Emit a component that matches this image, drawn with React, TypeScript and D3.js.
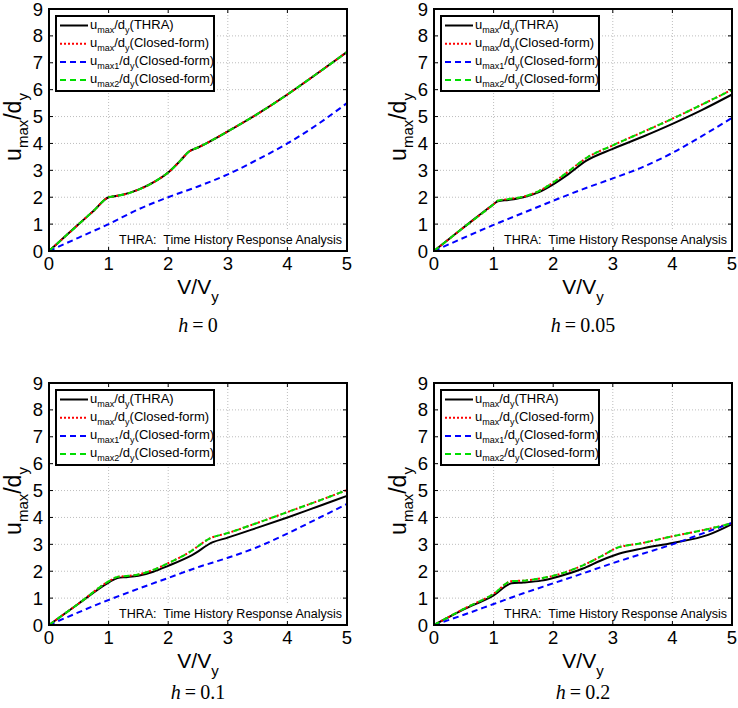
import React, { useEffect, useRef } from "react";
import * as d3 from "d3";

type Pt = [number, number];

const xTicks = [0, 1, 2, 3, 4, 5];
const yTicks = [0, 1, 2, 3, 4, 5, 6, 7, 8, 9];
const hValues = ["0", "0.05", "0.1", "0.2"];
const note = "THRA:  Time History Response Analysis";

// h = 0
const thraH0: Pt[] = [[0, 0], [0.25, 0.5], [0.5, 1.0], [0.75, 1.5], [1, 2.0], [1.1, 2.04], [1.25, 2.1], [1.5, 2.28], [1.75, 2.55], [2, 2.92], [2.2, 3.35], [2.35, 3.7], [2.5, 3.85], [3, 4.45], [3.5, 5.1], [4, 5.82], [4.5, 6.6], [5, 7.4]];
const closedH0: Pt[] = [[0, 0], [0.25, 0.5], [0.5, 1.0], [0.75, 1.5], [1, 2.0], [1.1, 2.04], [1.25, 2.1], [1.5, 2.28], [1.75, 2.55], [2, 2.92], [2.2, 3.35], [2.35, 3.7], [2.5, 3.85], [3, 4.45], [3.5, 5.1], [4, 5.82], [4.5, 6.6], [5, 7.4]];
const max1H0: Pt[] = [[0, 0], [0.5, 0.5], [1, 1.0], [1.5, 1.55], [2, 2.0], [2.5, 2.4], [3, 2.85], [3.5, 3.4], [4, 4.0], [4.5, 4.7], [5, 5.5]];
const max2H0: Pt[] = [[0, 0], [0.25, 0.5], [0.5, 1.0], [0.75, 1.5], [1, 2.0], [1.1, 2.04], [1.25, 2.1], [1.5, 2.28], [1.75, 2.55], [2, 2.92], [2.2, 3.35], [2.35, 3.7], [2.5, 3.85], [3, 4.45], [3.5, 5.1], [4, 5.82], [4.5, 6.6], [5, 7.4]];

// h = 0.05
const thraH005: Pt[] = [[0, 0], [0.5, 0.88], [1, 1.74], [1.07, 1.85], [1.25, 1.9], [1.5, 2.0], [1.75, 2.18], [2, 2.48], [2.25, 2.85], [2.55, 3.35], [3, 3.8], [3.5, 4.25], [4, 4.73], [4.5, 5.25], [5, 5.82]];
const closedH005: Pt[] = [[0, 0], [0.5, 0.88], [1, 1.74], [1.07, 1.87], [1.25, 1.93], [1.5, 2.02], [1.75, 2.22], [2, 2.55], [2.25, 2.95], [2.55, 3.45], [3, 3.93], [3.5, 4.42], [4, 4.92], [4.5, 5.45], [5, 6.0]];
const max1H005: Pt[] = [[0, 0], [1, 0.97], [1.5, 1.42], [2, 1.87], [2.5, 2.3], [3, 2.7], [3.5, 3.12], [4, 3.65], [4.5, 4.28], [5, 4.95]];
const max2H005: Pt[] = [[0, 0], [0.5, 0.88], [1, 1.74], [1.07, 1.87], [1.25, 1.93], [1.5, 2.02], [1.75, 2.22], [2, 2.55], [2.25, 2.95], [2.55, 3.45], [3, 3.93], [3.5, 4.42], [4, 4.92], [4.5, 5.45], [5, 6.0]];

// h = 0.1
const thraH01: Pt[] = [[0, 0], [0.5, 0.8], [1, 1.58], [1.15, 1.75], [1.3, 1.78], [1.5, 1.83], [1.75, 1.98], [2, 2.2], [2.4, 2.6], [2.75, 3.08], [3, 3.25], [3.5, 3.62], [4, 4.0], [4.5, 4.4], [5, 4.8]];
const closedH01: Pt[] = [[0, 0], [0.5, 0.8], [1, 1.62], [1.15, 1.79], [1.3, 1.82], [1.5, 1.88], [1.75, 2.05], [2, 2.3], [2.35, 2.7], [2.7, 3.22], [3, 3.42], [3.5, 3.8], [4, 4.2], [4.5, 4.6], [5, 5.02]];
const max1H01: Pt[] = [[0, 0], [1, 0.93], [1.5, 1.35], [2, 1.75], [2.5, 2.15], [3, 2.5], [3.5, 2.9], [4, 3.4], [4.5, 3.95], [5, 4.5]];
const max2H01: Pt[] = [[0, 0], [0.5, 0.8], [1, 1.62], [1.15, 1.79], [1.3, 1.82], [1.5, 1.88], [1.75, 2.05], [2, 2.3], [2.35, 2.7], [2.7, 3.22], [3, 3.42], [3.5, 3.8], [4, 4.2], [4.5, 4.6], [5, 5.02]];

// h = 0.2
const thraH02: Pt[] = [[0, 0], [0.5, 0.58], [1, 1.1], [1.3, 1.55], [1.5, 1.58], [1.8, 1.65], [2, 1.75], [2.5, 2.1], [2.8, 2.4], [3.1, 2.65], [3.5, 2.85], [4, 3.05], [4.6, 3.35], [5, 3.75]];
const closedH02: Pt[] = [[0, 0], [0.5, 0.6], [1, 1.16], [1.3, 1.63], [1.5, 1.65], [1.75, 1.72], [2, 1.83], [2.5, 2.22], [2.8, 2.55], [3.05, 2.85], [3.5, 3.05], [4, 3.3], [4.5, 3.52], [5, 3.78]];
const max1H02: Pt[] = [[0, 0], [0.5, 0.38], [1, 0.78], [1.5, 1.18], [2, 1.55], [2.5, 1.92], [3, 2.3], [3.5, 2.65], [4, 3.0], [4.5, 3.4], [5, 3.8]];
const max2H02: Pt[] = [[0, 0], [0.5, 0.6], [1, 1.16], [1.3, 1.63], [1.5, 1.65], [1.75, 1.72], [2, 1.83], [2.5, 2.22], [2.8, 2.55], [3.05, 2.85], [3.5, 3.05], [4, 3.3], [4.5, 3.52], [5, 3.78]];

const panelSeries: Pt[][][] = [
  [thraH0, closedH0, max1H0, max2H0],
  [thraH005, closedH005, max1H005, max2H005],
  [thraH01, closedH01, max1H01, max2H01],
  [thraH02, closedH02, max1H02, max2H02],
];

const legendItems = [
  { sub: "max", tail: "(THRA)", color: "#000000", dash: "none" },
  { sub: "max", tail: "(Closed-form)", color: "#ff0000", dash: "2,2" },
  { sub: "max1", tail: "(Closed-form)", color: "#0000ff", dash: "6,4" },
  { sub: "max2", tail: "(Closed-form)", color: "#00dd00", dash: "6,4" },
];

const W = 738;
const H = 708;
const colLeft = [49, 434];
const rowTop = [9, 383];
const rowHOffset = [81, 74];
const PW = 298;
const PH = 242;
const FONT = "'Liberation Sans', Arial, sans-serif";

const App: React.FC = () => {
  const svgRef = useRef<SVGSVGElement>(null);

  useEffect(() => {
    if (!svgRef.current) return;
    const svg = d3.select(svgRef.current);
    svg.selectAll("*").remove();

    panelSeries.forEach((series, i) => {
      const col = i % 2;
      const row = Math.floor(i / 2);
      const g = svg
        .append("g")
        .attr("transform", `translate(${colLeft[col]},${rowTop[row]})`);

      const x = d3.scaleLinear().domain([0, 5]).range([0, PW]);
      const y = d3.scaleLinear().domain([0, 9]).range([PH, 0]);

      g.append("rect").attr("width", PW).attr("height", PH).attr("fill", "white");

      // grid
      g.selectAll(".gx")
        .data(xTicks.slice(1, -1))
        .enter()
        .append("line")
        .attr("x1", (d) => x(d))
        .attr("x2", (d) => x(d))
        .attr("y1", 0)
        .attr("y2", PH)
        .attr("stroke", "#bdbdbd")
        .attr("stroke-width", 1)
        .attr("stroke-dasharray", "1,2");
      g.selectAll(".gy")
        .data(yTicks.slice(1, -1))
        .enter()
        .append("line")
        .attr("x1", 0)
        .attr("x2", PW)
        .attr("y1", (d) => y(d))
        .attr("y2", (d) => y(d))
        .attr("stroke", "#bdbdbd")
        .attr("stroke-width", 1)
        .attr("stroke-dasharray", "1,2");

      // annotation
      const noteText = g
        .append("text")
        .attr("x", PW - 5)
        .attr("y", PH - 7)
        .attr("text-anchor", "end")
        .attr("font-family", FONT)
        .attr("font-size", 12.5)
        .style("white-space", "pre")
        .text(note);
      const bb = (noteText.node() as SVGTextElement).getBBox();
      g.insert("rect", () => noteText.node() as SVGTextElement)
        .attr("x", bb.x - 3)
        .attr("y", bb.y - 2)
        .attr("width", bb.width + 6)
        .attr("height", bb.height + 4)
        .attr("fill", "white");

      const line = d3
        .line<Pt>()
        .x((d) => x(d[0]))
        .y((d) => y(d[1]))
        .curve(d3.curveMonotoneX);

      series.forEach((s, k) => {
        g.append("path")
          .attr("d", line(s))
          .attr("fill", "none")
          .attr("stroke", legendItems[k].color)
          .attr("stroke-width", 2)
          .attr("stroke-dasharray", legendItems[k].dash);
      });

      // ticks on all sides
      const tl = 4;
      xTicks.forEach((t) => {
        g.append("line").attr("x1", x(t)).attr("x2", x(t)).attr("y1", PH).attr("y2", PH - tl).attr("stroke", "black");
        g.append("line").attr("x1", x(t)).attr("x2", x(t)).attr("y1", 0).attr("y2", tl).attr("stroke", "black");
      });
      yTicks.forEach((t) => {
        g.append("line").attr("x1", 0).attr("x2", tl).attr("y1", y(t)).attr("y2", y(t)).attr("stroke", "black");
        g.append("line").attr("x1", PW).attr("x2", PW - tl).attr("y1", y(t)).attr("y2", y(t)).attr("stroke", "black");
      });

      g.append("rect")
        .attr("width", PW)
        .attr("height", PH)
        .attr("fill", "none")
        .attr("stroke", "black")
        .attr("stroke-width", 2);

      g.selectAll(".xt")
        .data(xTicks)
        .enter()
        .append("text")
        .attr("x", (d) => x(d))
        .attr("y", PH + 19)
        .attr("text-anchor", "middle")
        .attr("font-family", FONT)
        .attr("font-size", 18.5)
        .text((d) => d);
      g.selectAll(".yt")
        .data(yTicks)
        .enter()
        .append("text")
        .attr("x", -6)
        .attr("y", (d) => y(d) + 6.5)
        .attr("text-anchor", "end")
        .attr("font-family", FONT)
        .attr("font-size", 18.5)
        .text((d) => d);

      // legend
      const lg = g.append("g").attr("transform", "translate(7,7)");
      lg.append("rect")
        .attr("width", 158)
        .attr("height", 75)
        .attr("fill", "white")
        .attr("stroke", "black")
        .attr("stroke-width", 2);
      legendItems.forEach((it, k) => {
        const cy = 9.5 + k * 18.2;
        lg.append("line")
          .attr("x1", 4)
          .attr("x2", 32)
          .attr("y1", cy)
          .attr("y2", cy)
          .attr("stroke", it.color)
          .attr("stroke-width", 2)
          .attr("stroke-dasharray", it.dash);
        const t = lg
          .append("text")
          .attr("x", 34)
          .attr("y", cy + 3)
          .attr("font-family", FONT)
          .attr("font-size", 13);
        t.append("tspan").text("u");
        t.append("tspan").attr("font-size", 9).attr("dy", 4).text(it.sub);
        t.append("tspan").attr("dy", -4).text("/d");
        t.append("tspan").attr("font-size", 9).attr("dy", 4).text("y");
        t.append("tspan").attr("dy", -4).text(it.tail);
      });

      // x label
      const xl = g
        .append("text")
        .attr("x", PW / 2)
        .attr("y", PH + 43)
        .attr("text-anchor", "middle")
        .attr("font-family", FONT)
        .attr("font-size", 21);
      xl.append("tspan").text("V/V");
      xl.append("tspan").attr("font-size", 15).attr("dy", 8).text("y");

      // y label
      const yl = g
        .append("text")
        .attr("transform", `translate(-28,${PH / 2 - 3}) rotate(-90)`)
        .attr("text-anchor", "middle")
        .attr("font-family", FONT)
        .attr("font-size", 23);
      yl.append("tspan").text("u");
      yl.append("tspan").attr("font-size", 15).attr("dy", 7).text("max");
      yl.append("tspan").attr("dy", -7).text("/d");
      yl.append("tspan").attr("font-size", 15).attr("dy", 7).text("y");

      // h label
      const hl = g
        .append("text")
        .attr("x", PW / 2)
        .attr("y", PH + rowHOffset[row])
        .attr("text-anchor", "middle")
        .attr("font-family", "'Liberation Serif', 'Times New Roman', serif")
        .attr("font-size", 20);
      hl.append("tspan").attr("font-style", "italic").text("h");
      hl.append("tspan").text("\u2009=\u2009" + hValues[i]);
    });

    return () => {
      svg.selectAll("*").remove();
    };
  }, []);

  return (
    <svg
      ref={svgRef}
      width={W}
      height={H}
      style={{ position: "absolute", left: 0, top: 0, background: "white" }}
    />
  );
};

export default App;
